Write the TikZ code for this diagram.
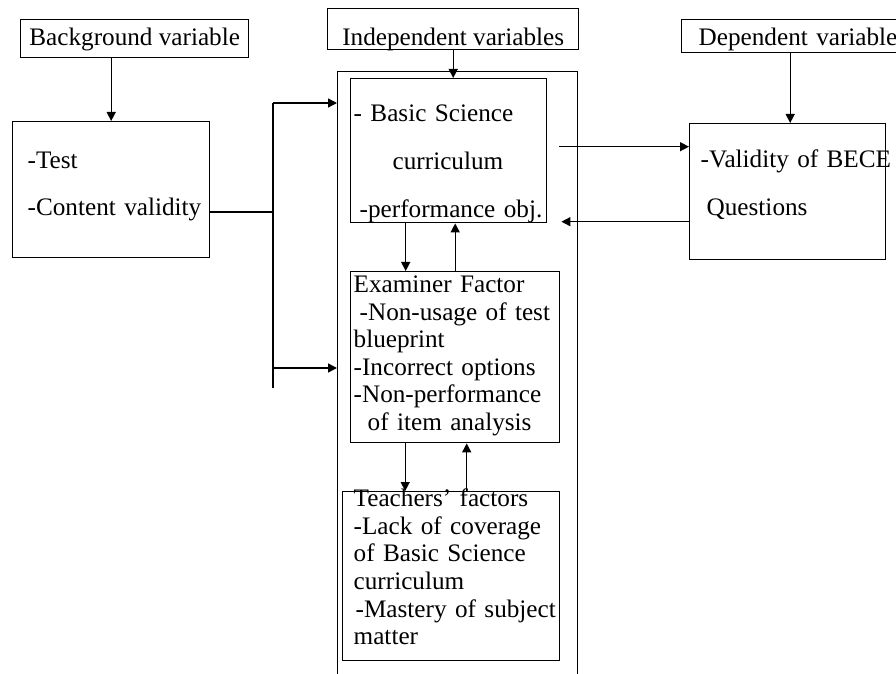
\documentclass[tikz,border=0pt]{standalone}
\usepackage{fontspec}
\setmainfont{Liberation Serif}
\usetikzlibrary{arrows.meta}

\newcommand{\boxfont}[1]{\fontsize{12.6}{#1}\selectfont}

\begin{document}
\begin{tikzpicture}[
    x=0.5pt, y=-0.5pt,
    box/.style={rectangle, draw, line width=0.7pt, anchor=north west, inner ysep=0pt, align=left},
    head/.style={box, inner xsep=0pt, align=center},
    arrow/.style={-{Triangle[length=4.5pt,width=4.5pt]}, line width=0.7pt},
    link/.style={line width=0.7pt}
]
    \useasboundingbox (0,0) rectangle (896,674);

    % Headings
    \node[head, minimum width=114pt, text height=13pt, text depth=6pt, font=\boxfont{15}] (bg) at (20,19) {Background variable};
    \node[head, minimum width=125.5pt, text height=18.5pt, text depth=2pt, font=\boxfont{15}] (indep) at (327,8) {Independent variables};
    \node[box, inner xsep=8.5pt, text width=91.5pt, text height=13pt, text depth=3.5pt, font=\boxfont{15}] (dep) at (681,19) {\mbox{Dependent variable}};

    % Variables
    \node[box, inner xsep=7.5pt, text width=83.5pt, text height=23.5pt, text depth=44.5pt, font=\boxfont{23.5}] (test) at (12,121)
        {-Test\\ \mbox{-Content validity}};
    \node[box, minimum width=120pt, minimum height=315pt] (indepbox) at (337,71) {};
    \node[box, inner xsep=1.5pt, text width=95pt, text height=21.5pt, text depth=50.5pt, font=\boxfont{24}] (basic) at (350,78)
        {- Basic Science\\ \hspace*{19.5pt}curriculum\\ \hspace*{3pt}-performance obj.};
    \node[box, inner xsep=1.5pt, text width=101.5pt, text height=10.5pt, text depth=75pt, font=\boxfont{13.75}] (exam) at (350,271)
        {Examiner Factor\\ \hspace*{3pt}-Non-usage of test\\ blueprint\\ -Incorrect options\\ -Non-performance\\ \hspace*{7pt}of item analysis};
    \node[box, inner xsep=5.5pt, text width=97.5pt, text height=7.5pt, text depth=77pt, font=\boxfont{13.8}] (teach) at (342,491)
        {Teachers’ factors\\ -Lack of coverage\\ of Basic Science\\ curriculum\\ \hspace*{1pt}\mbox{-Mastery of subject}\\ matter};
    \node[box, inner xsep=5.5pt, text width=87pt, text height=22pt, text depth=46pt, font=\boxfont{24}] (valid) at (689,123)
        {\mbox{-Validity of BECE}\\ \hspace*{3pt}Questions};

    % Branch from background
    \coordinate (join) at (273,212);
    \coordinate (trunktop) at (273,103);
    \coordinate (trunklow) at (273,368);
    \coordinate (trunkend) at (273,388);

    % Links
    \draw[arrow] (test.north |- bg.south) -- (test.north);
    \draw[link] (join -| test.east) -- (join);
    \draw[link] (trunktop) -- (trunkend);
    \draw[arrow] (trunktop) -- (trunktop -| indepbox.west);
    \draw[arrow] (trunklow) -- (trunklow -| indepbox.west);
    \draw[arrow] (indep.south) -- (indep.south |- basic.north);
    \draw[arrow] (dep.south) -- (dep.south |- valid.north);
    \draw[arrow] ([xshift=-21.5pt]basic.south) -- ([xshift=-21.5pt]basic.south |- exam.north);
    \draw[arrow] (exam.north) -- (exam.north |- basic.south);
    \draw[arrow] ([xshift=-25pt]exam.south) -- ([xshift=-25pt]exam.south |- teach.north);
    \draw[arrow] ([xshift=7.75pt]teach.north) -- ([xshift=7.75pt]teach.north |- exam.south);
    \draw[arrow, shorten <=6pt] ([yshift=2pt]basic.east) -- ([yshift=2pt]basic.east -| valid.west);
    \draw[arrow, shorten >=7pt] ([yshift=-15pt]valid.west) -- ([yshift=-15pt]valid.west -| basic.east);
\end{tikzpicture}
\end{document}
